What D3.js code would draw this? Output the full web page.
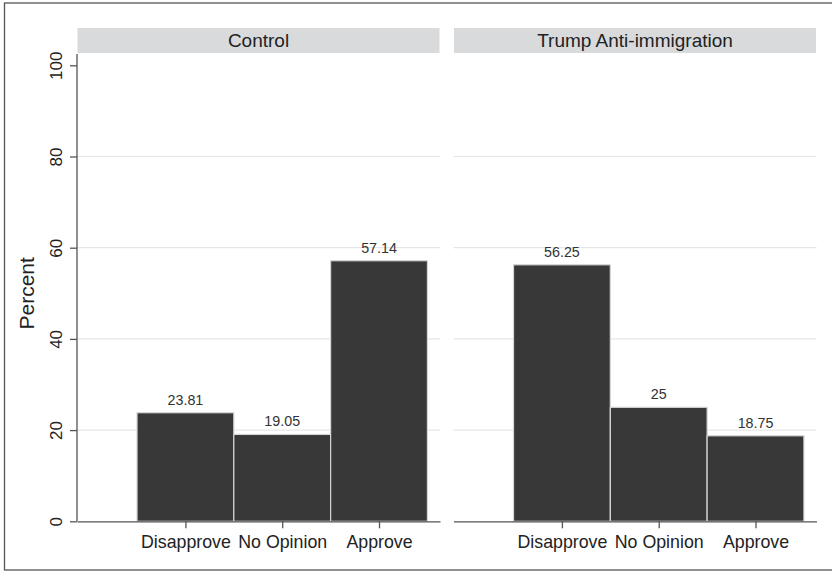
<!DOCTYPE html>
<html>
<head>
<meta charset="utf-8">
<script src="https://cdn.jsdelivr.net/npm/d3@7"></script>
<style>
  html, body { margin: 0; padding: 0; background: #fff; }
  svg { display: block; font-family: "Liberation Sans", Arial, Helvetica, sans-serif; }
</style>
</head>
<body>
<svg id="chart" width="832" height="571"></svg>
<script>
const categories = ["Disapprove", "No Opinion", "Approve"];
const panelTitles = ["Control", "Trump Anti-immigration"];
const controlValues = [23.81, 19.05, 57.14];
const trumpValues = [56.25, 25, 18.75];
const yTicks = [0, 20, 40, 60, 80, 100];
const yAxisTitle = "Percent";

const panelData = [controlValues, trumpValues];

const svg = d3.select("#chart");
const W = 832, H = 571;

// outer frame
svg.append("rect").attr("x", 4.5).attr("y", 3).attr("width", W + 10).attr("height", 567)
  .attr("fill", "#fff").attr("stroke", "#555").attr("stroke-width", 1.3);

const panelLeft = [77, 453.5];
const panelW = 363;
const y = d3.scaleLinear().domain([0, 100]).range([521.3, 65.3]);
const yTop = y(102.5);

panelData.forEach((vals, p) => {
  const x0 = panelLeft[p];
  const x = d3.scaleLinear().domain([-1.12, 2.63]).range([x0, x0 + panelW]);
  const g = svg.append("g");

  // header strip
  g.append("rect").attr("x", x0 + 0.5).attr("y", 28).attr("width", panelW - 1).attr("height", 25)
    .attr("fill", "#d9dadc");
  g.append("text").attr("x", x0 + panelW / 2).attr("y", 47)
    .attr("text-anchor", "middle").attr("font-size", 19).attr("fill", "#222")
    .text(panelTitles[p]);

  // gridlines
  g.selectAll("line.grid").data(yTicks.filter(t => t > 0 && t < 100)).enter().append("line")
    .attr("x1", x0).attr("x2", x0 + panelW)
    .attr("y1", d => y(d)).attr("y2", d => y(d))
    .attr("stroke", "#e6e6e8").attr("stroke-width", 1.2);

  // bars
  g.selectAll("rect.bar").data(vals).enter().append("rect")
    .attr("x", (d, i) => x(i - 0.5))
    .attr("width", (d, i) => x(i + 0.5) - x(i - 0.5))
    .attr("y", d => y(d))
    .attr("height", d => y(0) - y(d))
    .attr("fill", "#383838").attr("stroke", "#d6d6d6").attr("stroke-width", 1.2);

  // value labels
  g.selectAll("text.val").data(vals).enter().append("text")
    .attr("x", (d, i) => x(i)).attr("y", d => y(d) - 8)
    .attr("text-anchor", "middle").attr("font-size", 14.3).attr("fill", "#333")
    .text(d => String(d));

  // x axis
  const xAxis = d3.axisBottom(x).tickValues([0, 1, 2]).tickFormat(i => categories[i])
    .tickSize(7).tickSizeOuter(0).tickPadding(6);
  const ax = g.append("g").attr("transform", `translate(0,${y(0)})`).call(xAxis);
  ax.select(".domain").attr("stroke", "#555").attr("stroke-width", 1.3);
  ax.selectAll(".tick line").attr("stroke", "#555").attr("stroke-width", 1.3);
  ax.selectAll(".tick text").attr("font-size", 17.8).attr("fill", "#222")
    .attr("font-family", "'Liberation Sans', Arial, sans-serif")
    .attr("dy", null).attr("y", 27);
});

// y axis (left panel only)
const yAxis = d3.axisLeft(y).tickValues(yTicks).tickSize(7).tickSizeOuter(0).tickPadding(0).tickFormat(d3.format("d"));
const ay = svg.append("g").attr("transform", `translate(${panelLeft[0]},0)`).call(yAxis);
ay.select(".domain").remove();
ay.append("line").attr("x1", 0).attr("x2", 0).attr("y1", yTop).attr("y2", y(0))
  .attr("stroke", "#555").attr("stroke-width", 1.3);
ay.selectAll(".tick line").attr("stroke", "#555").attr("stroke-width", 1.3);
ay.selectAll(".tick text")
  .attr("font-size", 17).attr("fill", "#222")
  .attr("font-family", "'Liberation Sans', Arial, sans-serif")
  .attr("x", null).attr("dy", null).attr("text-anchor", "middle")
  .attr("transform", "translate(-15,0) rotate(-90)");

// y axis title
svg.append("text").attr("transform", `translate(34,${y(50)}) rotate(-90)`)
  .attr("text-anchor", "middle").attr("font-size", 21).attr("fill", "#222")
  .text(yAxisTitle);
</script>
</body>
</html>
